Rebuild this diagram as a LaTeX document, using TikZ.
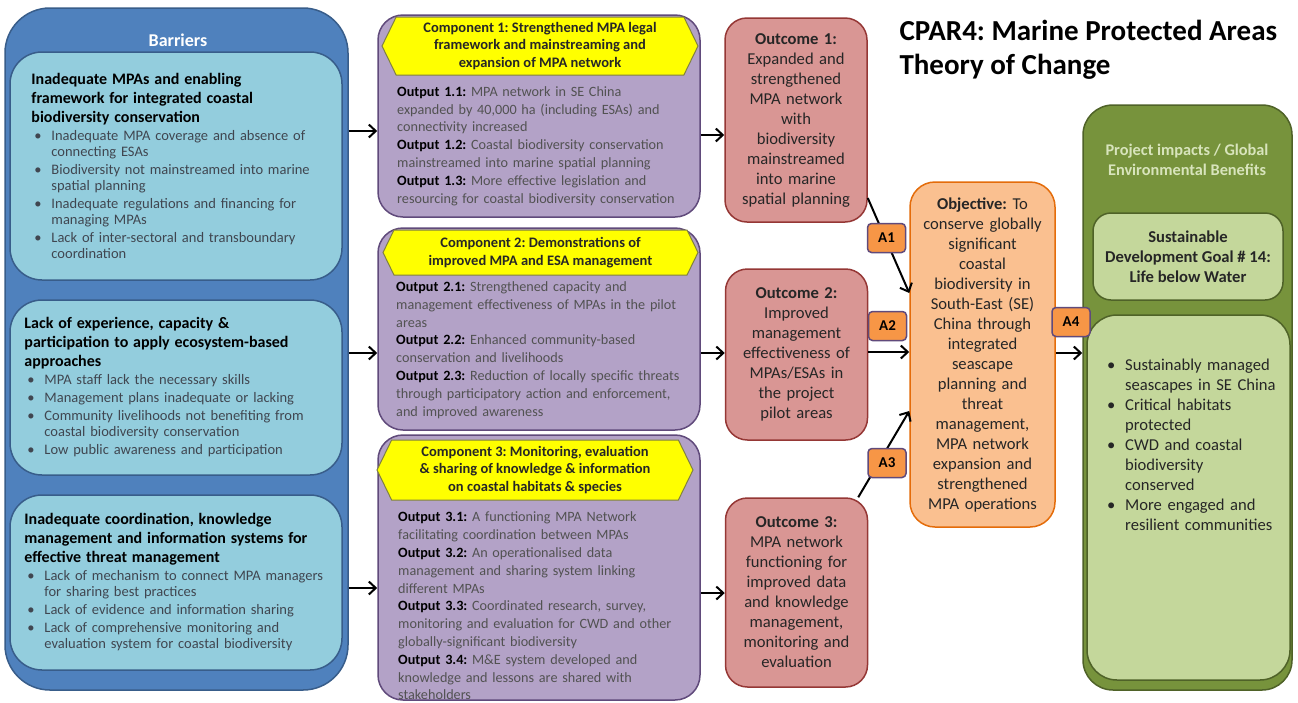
\documentclass[tikz,border=0pt]{standalone}
\usepackage{fontspec}
\setmainfont{Carlito}
\usetikzlibrary{shapes.symbols,arrows.meta,positioning,calc}
\setlength{\parindent}{0pt}
\frenchspacing

\definecolor{barrierblue}{RGB}{79,129,189}
\definecolor{barrierdark}{RGB}{56,93,138}
\definecolor{barrierlight}{RGB}{147,205,221}
\definecolor{bodygray}{RGB}{64,70,80}
\definecolor{comppurple}{RGB}{179,162,199}
\definecolor{compdark}{RGB}{96,74,123}
\definecolor{headyellow}{RGB}{255,255,0}
\definecolor{headdark}{RGB}{128,128,64}
\definecolor{outcomered}{RGB}{217,150,148}
\definecolor{outcomedark}{RGB}{149,55,53}
\definecolor{objorange}{RGB}{250,192,144}
\definecolor{objdark}{RGB}{228,108,10}
\definecolor{assumporange}{RGB}{247,150,70}
\definecolor{impactgreen}{RGB}{119,147,60}
\definecolor{impactdark}{RGB}{79,98,40}
\definecolor{impactlight}{RGB}{196,215,155}
\definecolor{impacttitle}{RGB}{216,228,188}

\newcommand{\bul}[2][20pt]{\par\hangindent=#1\hangafter=1\noindent\makebox[#1][l]{\hspace{3pt}\textbullet}#2\par}
\newcommand{\outlabel}[1]{\textcolor{black}{\textbf{Output #1:}}}

\begin{document}
\begin{tikzpicture}[x=1pt, y=-1pt,
    flow/.style={->, >={Straight Barb[length=7pt,width=13pt]}, line width=2pt},
    barrierframe/.style={rectangle, rounded corners=45pt, fill=barrierblue, draw=barrierdark, line width=1.5pt},
    barrierbox/.style={rectangle, rounded corners=32pt, fill=barrierlight, draw=barrierdark, line width=1.5pt, minimum width=332pt},
    bartext/.style={text width=312pt, align=left, inner sep=0pt, text=bodygray, font=\fontsize{14.5}{16}\selectfont, execute at begin node={\setlength{\parskip}{2pt}}},
    compbox/.style={rectangle, rounded corners=25pt, fill=comppurple, draw=compdark, line width=1.5pt, minimum width=322pt},
    comphead/.style={signal, signal to=west and east, signal pointer angle=128, fill=headyellow, draw=headdark, line width=1pt, align=center, inner sep=0pt, text=black!85, font=\fontsize{14.5}{17.5}\selectfont\bfseries},
    outputtext/.style={text width=300pt, align=left, inner sep=0pt, text=black!68, font=\fontsize{14.2}{17.8}\selectfont},
    outcome/.style={rectangle, rounded corners=22pt, fill=outcomered, draw=outcomedark, line width=1.5pt, minimum width=142pt, text width=140pt, inner sep=0pt, align=center, text=black!85, font=\fontsize{16.6}{20}\selectfont},
    objective/.style={rectangle, rounded corners=25pt, fill=objorange, draw=objdark, line width=1.5pt, text width=143pt, inner sep=0pt, align=center, text=black!85, font=\fontsize{16.6}{20}\selectfont},
    assump/.style={rectangle, rounded corners=4pt, fill=assumporange, draw=compdark, line width=1.5pt, minimum width=38pt, minimum height=29pt, inner sep=0pt, font=\fontsize{15}{18}\selectfont\bfseries},
    impactframe/.style={rectangle, rounded corners=30pt, fill=impactgreen, draw=impactdark, line width=1.5pt},
    impactbox/.style={rectangle, fill=impactlight, draw=impactdark, line width=1.5pt, inner sep=0pt},
    benefittext/.style={text width=185pt, align=left, inner sep=0pt, text=black!85, font=\fontsize{16.6}{20}\selectfont}
]
    % Page
    \fill[white] (0,0) rectangle (1298,702);
    \useasboundingbox (0,0) rectangle (1298,702);

    % Barriers
    \node[barrierframe, minimum width=343pt, minimum height=682pt] (barriers) at (176.5,349) {};
    \node[text=white, font=\fontsize{18}{22}\selectfont\bfseries] (barrierstitle) at (178,40) {Barriers};
    \node[barrierbox, minimum height=228pt] (bar1) at (176,166) {};
    \node[barrierbox, minimum height=175pt] (bar2) at (176,387.5) {};
    \node[barrierbox, minimum height=175pt] (bar3) at (176,582.5) {};

    \node[bartext, right=22pt of bar1.west] (bar1txt) {%
        {\leavevmode\fontsize{16}{19}\selectfont\bfseries\color{black}Inadequate MPAs and enabling\\ framework for integrated coastal\\ biodiversity conservation\par}
        \bul{Inadequate MPA coverage and absence of\newline connecting ESAs}
        \bul{Biodiversity not mainstreamed into marine\newline spatial planning}
        \bul{Inadequate regulations and financing for\newline managing MPAs}
        \bul{Lack of inter-sectoral and transboundary\newline coordination}};
    \node[bartext, right=15pt of bar2.west] (bar2txt) {%
        {\leavevmode\fontsize{16}{19}\selectfont\bfseries\color{black}Lack of experience, capacity \&\\ participation to apply ecosystem-based\\ approaches\par}
        \bul{MPA staff lack the necessary skills}
        \bul{Management plans inadequate or lacking}
        \bul{Community livelihoods not benefiting from\newline coastal biodiversity conservation}
        \bul{Low public awareness and participation}};
    \node[bartext, right=15pt of bar3.west] (bar3txt) {%
        {\leavevmode\fontsize{16}{19}\selectfont\bfseries\color{black}Inadequate coordination, knowledge\\ management and information systems for\\ effective threat management\par}
        \bul{Lack of mechanism to connect MPA managers\newline for sharing best practices}
        \bul{Lack of evidence and information sharing}
        \bul{Lack of comprehensive monitoring and\newline evaluation system for coastal biodiversity}};

    % Components
    \node[compbox, minimum height=202pt] (comp1) at (539,116) {};
    \node[compbox, minimum height=202pt] (comp2) at (539,329) {};
    \node[compbox, minimum height=265pt] (comp3) at (539,567.5) {};
    \node[comphead, minimum width=316pt, minimum height=58pt] (head1) at (540,46)
        {Component 1: Strengthened MPA legal\\ framework and mainstreaming and\\ expansion of MPA network};
    \node[comphead, minimum width=315pt, minimum height=45pt] (head2) at (540.5,252.5)
        {Component 2: Demonstrations of\\ improved MPA and ESA management};
    \node[comphead, minimum width=316pt, minimum height=60pt] (head3) at (535,470)
        {Component 3: Monitoring, evaluation\\ \& sharing of knowledge \& information\\ on coastal habitats \& species};

    \node[outputtext, anchor=west] (outputs1) at (397,146) {%
        \outlabel{1.1} MPA network in SE China\\ expanded by 40,000 ha (including ESAs) and\\ connectivity increased\\
        \outlabel{1.2} Coastal biodiversity conservation\\ mainstreamed into marine spatial planning\\
        \outlabel{1.3} More effective legislation and\\ resourcing for coastal biodiversity conservation};
    \node[outputtext, anchor=west] (outputs2) at (396,350) {%
        \outlabel{2.1} Strengthened capacity and\\ management effectiveness of MPAs in the pilot\\ areas\\
        \outlabel{2.2} Enhanced community-based\\ conservation and livelihoods\\
        \outlabel{2.3} Reduction of locally specific threats\\ through participatory action and enforcement,\\ and improved awareness};
    \node[outputtext, anchor=west] (outputs3) at (398,606) {%
        \outlabel{3.1} A functioning MPA Network\\ facilitating coordination between MPAs\\
        \outlabel{3.2} An operationalised data\\ management and sharing system linking\\ different MPAs\\
        \outlabel{3.3} Coordinated research, survey,\\ monitoring and evaluation for CWD and other\\ globally-significant biodiversity\\
        \outlabel{3.4} M\&E system developed and\\ knowledge and lessons are shared with\\ stakeholders};

    % Outcomes
    \node[outcome, minimum height=204pt] (outcome1) at (796,120)
        {\textbf{Outcome 1:}\\ Expanded and\\ strengthened\\ MPA network\\ with\\ biodiversity\\ mainstreamed\\ into marine\\ spatial planning};
    \node[outcome, minimum height=171pt] (outcome2) at (796.5,354.5)
        {\textbf{Outcome 2:}\\ Improved\\ management\\ effectiveness of\\ MPAs/ESAs in\\ the project\\ pilot areas};
    \node[outcome, minimum height=189pt] (outcome3) at (796.5,592.5)
        {\textbf{Outcome 3:}\\ MPA network\\ functioning for\\ improved data\\ and knowledge\\ management,\\ monitoring and\\ evaluation};

    % Objective
    \node[objective, minimum width=145pt, minimum height=345pt] (objective) at (982.5,354.5)
        {\textbf{Objective:} To\\ conserve globally\\ significant\\ coastal\\ biodiversity in\\ South-East (SE)\\ China through\\ integrated\\ seascape\\ planning and\\ threat\\ management,\\ MPA network\\ expansion and\\ strengthened\\ MPA operations};

    % Impacts
    \node[impactframe, minimum width=209pt, minimum height=585pt] (impacts) at (1187.5,397.5) {};
    \node[text=impacttitle, align=center, font=\fontsize{16.3}{20}\selectfont\bfseries] (impactstitle) at (1187,160)
        {Project impacts / Global\\ Environmental Benefits};
    \node[impactbox, rounded corners=18pt, minimum width=190pt, minimum height=87pt, align=center, text=black!85, font=\fontsize{16.6}{20}\selectfont\bfseries] (sdg) at (1188,256.5)
        {Sustainable\\ Development Goal \# 14:\\ Life below Water};
    \node[impactbox, rounded corners=30pt, minimum width=203pt, minimum height=365pt] (benefits) at (1188.5,497.5) {};
    \node[benefittext, anchor=west] (benefitstxt) at (1104,441) {%
        \bul[21pt]{Sustainably managed\newline seascapes in SE China}
        \bul[21pt]{Critical habitats\newline protected}
        \bul[21pt]{CWD and coastal\newline biodiversity\newline conserved}
        \bul[21pt]{More engaged and\newline resilient communities}};

    % Title
    \node[anchor=west, align=left, font=\fontsize{29}{34}\selectfont\bfseries] (title) at (896,50)
        {CPAR4: Marine Protected Areas\\ Theory of Change};

    % Arrows
    \draw[flow] (barriers.east |- 0,131) -- (comp1.west |- 0,131);
    \draw[flow] (barriers.east |- 0,353) -- (comp2.west |- 0,353);
    \draw[flow] (barriers.east |- 0,588) -- (comp3.west |- 0,588);
    \draw[flow] (comp1.east |- 0,135) -- (outcome1.west |- 0,135);
    \draw[flow] (comp2.east |- 0,353) -- (outcome2.west |- 0,353);
    \draw[flow] (comp3.east |- 0,593) -- (outcome3.west |- 0,593);
    \draw[flow] (outcome1.east |- 0,198) -- (objective.west |- 0,293);
    \draw[flow] (outcome2.east |- 0,352) -- (objective.west |- 0,352);
    \draw[flow] ($(outcome3.north east)+(-10,0)$) -- (objective.west |- 0,411);
    \draw[flow] (objective.east |- 0,353) -- (impacts.west |- 0,353);

    % Assumptions
    \node[assump] (A1) at (886.5,238) {A1};
    \node[assump] (A2) at (887.5,326) {A2};
    \node[assump] (A3) at (887,463) {A3};
    \node[assump] (A4) at (1071,322) {A4};
\end{tikzpicture}
\end{document}
